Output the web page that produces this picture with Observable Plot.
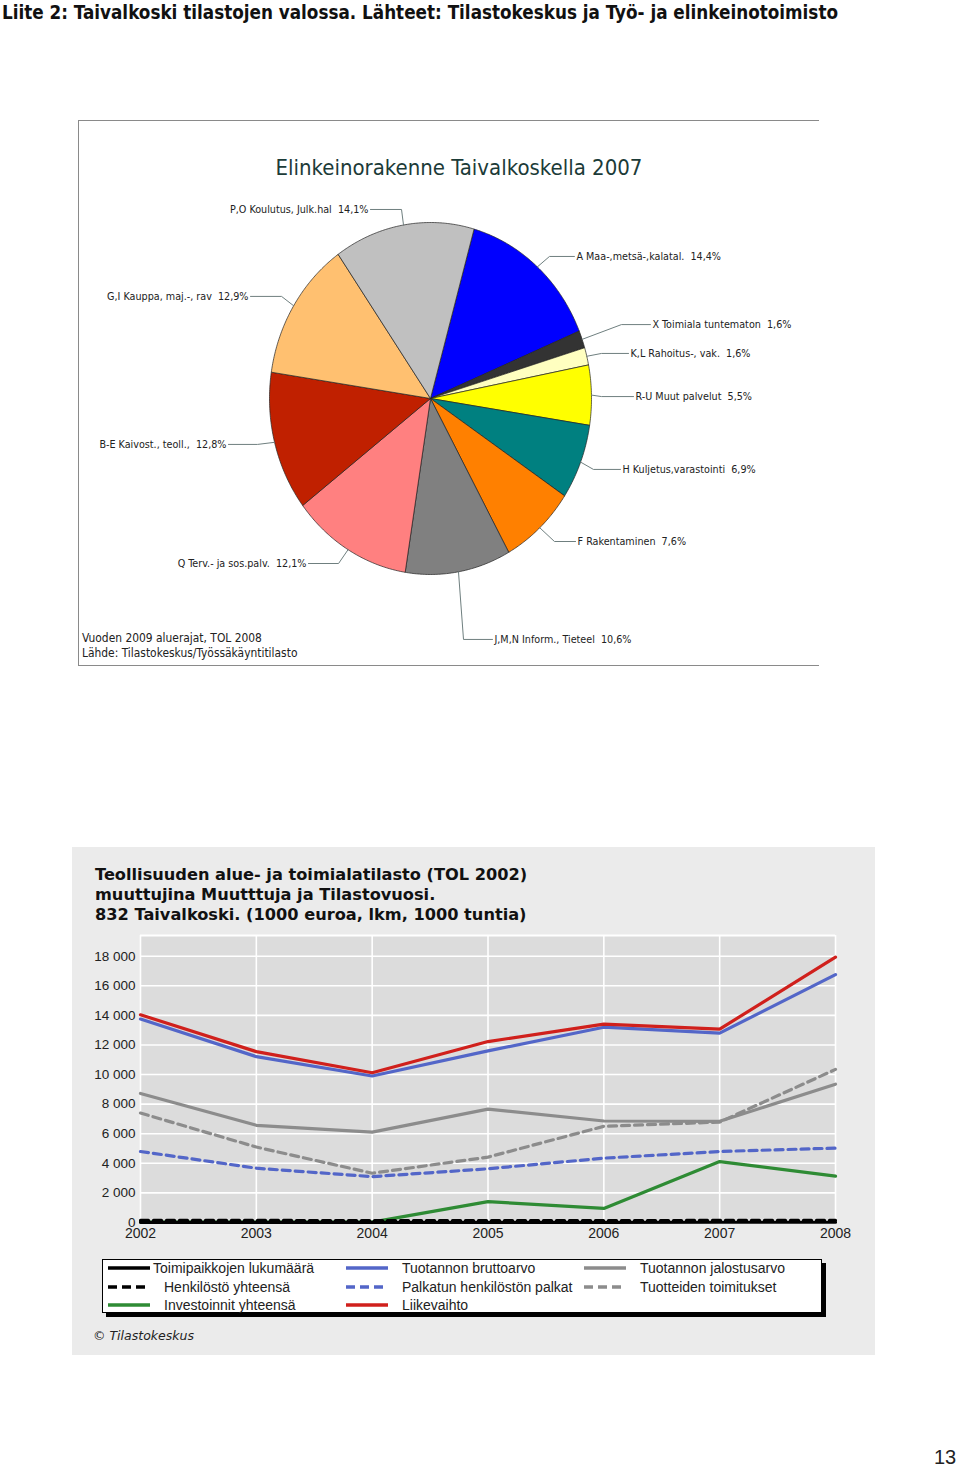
<!DOCTYPE html>
<html><head><meta charset="utf-8">
<script src="https://cdn.jsdelivr.net/npm/d3@7"></script>
<script src="https://cdn.jsdelivr.net/npm/@observablehq/plot@0.6"></script>
<style>
body{margin:0;width:960px;height:1467px;position:relative;background:#fff;font-family:"Liberation Sans",Arial,sans-serif;overflow:hidden}
.abs{position:absolute}
#pieframe{left:78px;top:120px;width:741px;height:546px;border-top:1px solid #8a8a8a;border-left:1px solid #8a8a8a;border-bottom:1px solid #8a8a8a;box-sizing:border-box}
#pietitle{left:0;width:760px;top:34px;text-align:center;font-family:"Liberation Sans Narrow","DejaVu Sans Condensed",sans-serif;font-size:22px;color:#1c3b38}
.note{left:3px;font-family:"Liberation Sans Narrow","DejaVu Sans Condensed",sans-serif;font-size:11.9px;color:#222}
#panel{left:72px;top:847px;width:803px;height:508px;background:#ebebeb}
#ltitle{left:23px;top:18px;font-family:"DejaVu Sans",Verdana,sans-serif;font-weight:bold;font-size:16.2px;line-height:20px;color:#111}
#legend{left:30px;top:412px;width:720px;height:54px;background:#fff;border:1px solid #000;box-sizing:border-box;box-shadow:4px 4px 0 #000}
.li{position:absolute;height:18px;display:flex;align-items:center;font-size:14px;color:#222;white-space:nowrap}
#copy{left:21px;top:481px;font-family:"DejaVu Sans",Verdana,sans-serif;font-style:italic;font-size:12.5px;color:#222}
#pageno{left:934px;top:1446px;font-size:20px;color:#222}
</style></head><body>
<svg class="abs" style="left:0;top:0" width="960" height="26"><text id="heading" x="2" y="19" textLength="836" lengthAdjust="spacingAndGlyphs" font-family="Liberation Sans Narrow, DejaVu Sans Condensed, sans-serif" font-weight="bold" font-size="20" fill="#111">Liite 2: Taivalkoski tilastojen valossa. Lähteet: Tilastokeskus ja Työ- ja elinkeinotoimisto</text></svg>
<div id="pieframe" class="abs">
  <div id="pietitle" class="abs">Elinkeinorakenne Taivalkoskella 2007</div>
  <div id="pieplot" class="abs" style="left:0;top:0"></div>
  <div class="abs note" style="top:510px">Vuoden 2009 aluerajat, TOL 2008</div>
  <div class="abs note" style="top:525px">Lähde: Tilastokeskus/Työssäkäyntitilasto</div>
</div>
<div id="panel" class="abs">
  <div id="ltitle" class="abs">Teollisuuden alue- ja toimialatilasto (TOL 2002)<br>muuttujina Muutttuja ja Tilastovuosi.<br>832 Taivalkoski. (1000 euroa, lkm, 1000 tuntia)</div>
  <div id="lineplot" class="abs" style="left:0;top:83px"></div>
  <div id="legend" class="abs"></div>
  <div id="copy" class="abs">© Tilastokeskus</div>
</div>
<div id="pageno" class="abs">13</div>
<script>
// ---------- Pie data ----------
const sectors = ["A Maa-,metsä-,kalatal.", "X Toimiala tuntematon", "K,L Rahoitus-, vak.", "R-U Muut palvelut", "H Kuljetus,varastointi", "F Rakentaminen", "J,M,N Inform., Tieteel", "Q Terv.- ja sos.palv.", "B-E Kaivost., teoll.,", "G,I Kauppa, maj.-, rav", "P,O Koulutus, Julk.hal"];
const shares = [14.4, 1.6, 1.6, 5.5, 6.9, 7.6, 10.6, 12.1, 12.8, 12.9, 14.1];
const sectorColors = ["#0000ff", "#333333", "#ffffc0", "#ffff00", "#008080", "#ff8000", "#808080", "#ff8080", "#c02000", "#ffc070", "#c0c0c0"];

// label layout (unit-circle coordinates: text anchor x, y, elbow x)
const labelX = [0.894, 1.366, 1.230, 1.261, 1.180, 0.901, 0.385, -0.758, -1.255, -1.118, -0.373];
const labelY = [0.807, 0.420, 0.256, 0.011, -0.403, -0.8125, -1.369, -0.9375, -0.261, 0.580, 1.074];
const elbowX = [0.739, 1.186, 1.062, 1.062, 1.012, 0.770, 0.205, -0.571, -1.075, -0.925, -0.180];

// ---------- Line chart data ----------
const years = [2002, 2003, 2004, 2005, 2006, 2007, 2008];
const seriesNames = ["Toimipaikkojen lukumäärä", "Henkilöstö yhteensä", "Investoinnit yhteensä", "Tuotannon bruttoarvo", "Palkatun henkilöstön palkat", "Liikevaihto", "Tuotannon jalostusarvo", "Tuotteiden toimitukset"];
const toimipaikat = [15, 15, 14, 15, 15, 16, 16];
const henkilosto = [140, 140, 130, 130, 130, 140, 140];
const investoinnit = [30, 30, 30, 1410, 950, 4120, 3130];
const bruttoarvo = [13750, 11210, 9900, 11600, 13200, 12800, 16760];
const palkat = [4800, 3670, 3100, 3630, 4350, 4800, 5030];
const liikevaihto = [14040, 11550, 10120, 12230, 13410, 13070, 17940];
const jalostusarvo = [8720, 6570, 6110, 7660, 6860, 6840, 9350];
const toimitukset = [7400, 5100, 3330, 4420, 6500, 6790, 10350];
const yTicks = [0, 2000, 4000, 6000, 8000, 10000, 12000, 14000, 16000, 18000];

const seriesValues = [toimipaikat, henkilosto, investoinnit, bruttoarvo, palkat, liikevaihto, jalostusarvo, toimitukset];
const seriesColors = ["#000000", "#000000", "#2e8b34", "#5366c8", "#5366c8", "#d0201c", "#8c8c8c", "#8c8c8c"];
const seriesDash = [null, "8,5", null, null, "8,5", null, null, "8,5"];
const drawOrder = [2, 0, 1, 7, 6, 4, 3, 5];

// ---------- Pie ----------
const startAngle = 15.7 * Math.PI / 180;
const arcs = d3.pie().sort(null).value(d => d).startAngle(startAngle).endAngle(startAngle + 2 * Math.PI)(shares);
const slicePts = [];
arcs.forEach((a, i) => {
  slicePts.push({i, x: 0, y: 0});
  const n = Math.max(4, Math.ceil((a.endAngle - a.startAngle) / 0.01));
  for (let k = 0; k <= n; k++) {
    const t = a.startAngle + (a.endAngle - a.startAngle) * k / n;
    slicePts.push({i, x: Math.sin(t), y: Math.cos(t)});
  }
  slicePts.push({i, x: 0, y: 0});
});
const leaderPts = [];
const labels = [];
arcs.forEach((a, i) => {
  const m = (a.startAngle + a.endAngle) / 2;
  leaderPts.push({i, x: Math.sin(m), y: Math.cos(m)});
  leaderPts.push({i, x: elbowX[i], y: labelY[i]});
  leaderPts.push({i, x: labelX[i], y: labelY[i]});
  labels.push({
    x: labelX[i], y: labelY[i],
    text: sectors[i] + "\u00a0\u00a0" + shares[i].toFixed(1).replace(".", ",") + "%",
    anchor: labelX[i] > elbowX[i] ? "start" : "end"
  });
});
const narrow = "Liberation Sans Narrow, DejaVu Sans Condensed, sans-serif";
const pie = Plot.plot({
  width: 740, height: 545,
  x: {domain: [-1, 1], range: [190, 512], axis: null},
  y: {domain: [-1, 1], range: [453, 101], axis: null},
  color: {type: "identity"},
  style: {background: "transparent", overflow: "visible"},
  marks: [
    Plot.line(slicePts, {x: "x", y: "y", z: "i", fill: d => sectorColors[d.i], stroke: "#222", strokeWidth: 0.7, curve: "linear"}),
    Plot.line(leaderPts, {x: "x", y: "y", z: "i", stroke: "#6f7f7f", strokeWidth: 1}),
    Plot.text(labels.filter(d => d.anchor === "start"), {x: "x", y: "y", text: "text", textAnchor: "start", dx: 2, fontSize: 10.7, fontFamily: narrow, fill: "#222"}),
    Plot.text(labels.filter(d => d.anchor === "end"), {x: "x", y: "y", text: "text", textAnchor: "end", dx: -2, fontSize: 10.7, fontFamily: narrow, fill: "#222"})
  ]
});
document.getElementById("pieplot").appendChild(pie);

// ---------- Line chart ----------
const rows = [];
seriesNames.forEach((name, s) => years.forEach((yr, j) => rows.push({s, name, year: yr, value: seriesValues[s][j]})));
const fmt = d => d3.format(",")(d).replace(/,/g, " ");
const lineMarks = drawOrder.map(s => Plot.line(rows.filter(r => r.s === s), {
  x: "year", y: "value", stroke: seriesColors[s], strokeWidth: 3.2,
  strokeDasharray: seriesDash[s] || undefined, strokeLinejoin: "miter"
}));
const lp = Plot.plot({
  width: 803, height: 318,
  marginLeft: 68, marginRight: 40, marginTop: 5, marginBottom: 26,
  style: {background: "transparent", fontFamily: "Liberation Sans, Arial, sans-serif", fontSize: "13px", color: "#222"},
  x: {domain: [2002, 2008], ticks: years, tickFormat: "d", tickSize: 0, tickPadding: 5, label: null},
  y: {domain: [0, 19400], ticks: yTicks, tickFormat: fmt, tickSize: 0, tickPadding: 5, label: null},
  marks: [
    Plot.frame({fill: "#dcdcdc", stroke: null}),
    Plot.gridY(yTicks, {stroke: "#fff", strokeOpacity: 1, strokeWidth: 1.6}),
    Plot.gridX(years, {stroke: "#fff", strokeOpacity: 1, strokeWidth: 1.6}),
    Plot.ruleY([19400], {stroke: "#fff", strokeWidth: 2}),
    ...lineMarks,
    Plot.axisX({ticks: years, tickFormat: "d", tickSize: 0, tickPadding: 6, fontSize: 14, label: null}),
    Plot.axisY({ticks: yTicks, tickFormat: fmt, tickSize: 0, tickPadding: 5, fontSize: 13.5, label: null})
  ]
});
document.getElementById("lineplot").appendChild(lp);

// ---------- Legend ----------
const legend = document.getElementById("legend");
const colX = [5, 243, 481];
const rowTop = [-1, 18, 36];
const lineW = 42;
seriesNames.forEach((name, s) => {
  const col = Math.floor(s / 3), row = s % 3;
  const el = document.createElement("div");
  el.className = "li";
  el.style.left = colX[col] + "px";
  el.style.top = rowTop[row] + "px";
  const gap = (s === 0) ? 3 : 14;
  el.innerHTML = `<svg width="${lineW}" height="6" style="margin-right:${gap}px"><line x1="0" y1="3" x2="${lineW}" y2="3" stroke="${seriesColors[s]}" stroke-width="3.5" ${seriesDash[s] ? `stroke-dasharray="9,5"` : ""}/></svg><span>${name}</span>`;
  legend.appendChild(el);
});
</script>
</body></html>
